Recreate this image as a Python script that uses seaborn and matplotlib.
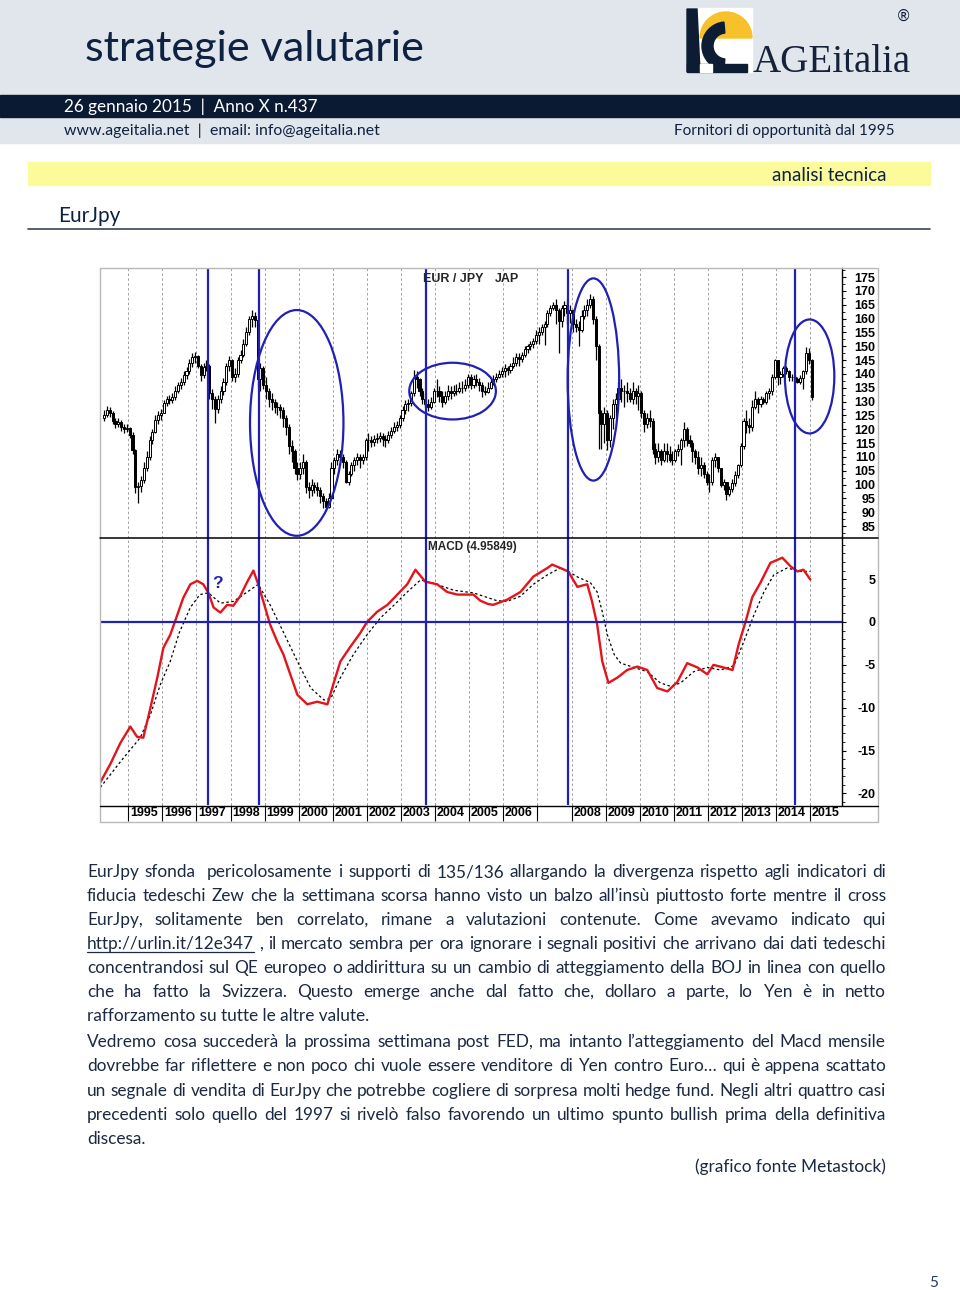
import numpy as np
import pandas as pd
import matplotlib
matplotlib.use("Agg")
import matplotlib.pyplot as plt
import matplotlib.transforms as mtransforms
from matplotlib.patches import Rectangle, Ellipse, Wedge, Polygon
from matplotlib import font_manager
import seaborn as sns

# ------------------------------------------------------------------ data
first_open = 124.0
closes = [
    125, 127, 126, 123, 122, 122.5, 121, 120, 120.5,                      # 1994 (Apr-Dec)
    118, 112.5, 99, 99.5, 101.5, 106, 110, 116, 119, 123.5, 125, 126,      # 1995
    129.5, 131, 130.5, 131.5, 134, 136, 137, 139.5, 141, 144, 146, 146.5,  # 1996
    143, 139.5, 142.5, 143, 133, 131, 127.5, 131, 134, 137, 143, 145,      # 1997
    139, 140, 145, 147, 151, 155, 160, 161, 159.5, 138, 142, 136,          # 1998
    134, 131, 130, 128, 128, 127, 124, 121, 114, 112, 106, 104,            # 1999
    106, 108, 99, 98, 100, 99, 98, 96, 94, 92, 95, 106,                    # 2000
    109, 111, 110, 108, 101, 104, 107, 109, 110, 109, 110, 116,            # 2001
    116, 115.5, 116.5, 117, 117.5, 116.5, 116, 118, 119.5, 121, 121.5, 124,  # 2002
    127, 129, 129.5, 133, 139, 138, 134, 131, 129, 128, 130, 134,          # 2003
    134, 132, 130, 132, 134, 133, 134, 134, 135, 135, 136, 139,            # 2004
    136, 138, 137, 136, 134, 133.5, 135, 137, 138, 139, 140, 141,          # 2005
    142, 141.5, 143, 144, 146, 145.5, 147, 149, 150, 151, 152, 154,        # 2006
    155, 157, 158, 162, 164, 165, 163, 159, 164, 165, 162, 163,            # 2007
    158, 157, 156, 161, 163, 165, 167, 160, 150, 126, 122, 126,            # 2008
    116, 124, 129, 131, 135, 134, 134, 133, 131, 134, 132, 133,            # 2009
    126, 122, 124, 123, 113, 110, 112, 109, 112, 111, 109, 109,            # 2010
    112, 113, 116, 120, 116, 115, 112, 110, 106, 107, 104, 101,            # 2011
    101, 109, 110, 106, 100, 101, 96.5, 98.5, 100.5, 103.5, 107, 114,      # 2012
    123, 121.5, 121, 128, 131, 129, 131, 130, 133, 134, 139, 145,          # 2013
    139, 140, 142, 141, 139, 139, 138, 137, 138.5, 141, 147.5, 145,        # 2014
    131.6,                                                                 # 2015
]
highs = [
    127, 128.5, 128, 126.5, 124, 124, 123.5, 122, 122,
    121, 119, 113, 101, 103, 108, 112, 117.5, 120, 125, 126.5, 127.5,
    130.5, 132, 132.5, 133, 135.5, 137, 138.5, 141, 142.5, 145.5, 147.5, 148,
    147, 143.5, 144, 145, 143.5, 134.5, 132, 132.5, 135.5, 138.5, 144, 146.5,
    145.5, 142, 146, 148.5, 152.5, 157, 161, 163, 162.5, 160, 144, 143,
    139, 135, 133, 131, 130, 129, 128, 125, 122, 116, 113, 108,
    108, 111, 109, 101, 102, 101, 101, 99, 97, 95, 97, 108,
    110, 113, 112.5, 111, 109, 105, 108, 110, 111.5, 111, 111, 117,
    118.5, 117.5, 118, 118.5, 119, 118.5, 118, 119.5, 121, 122.5, 123, 125,
    128.5, 130.5, 131, 134, 141.5, 141, 138.5, 135, 133, 131, 131.5, 135,
    138, 135.5, 134, 134, 136, 135.5, 136, 136.5, 137, 137.5, 138, 140,
    140, 139.5, 140, 138.5, 137, 135.5, 137, 138, 139.5, 140.5, 141.5, 142.5,
    143.5, 143, 144, 146, 147.5, 147.5, 148, 150, 151, 152, 153, 156,
    157, 158, 159, 163, 165, 166, 167, 164, 165, 166.5, 167, 165,
    163, 160, 159, 163, 165, 167, 169, 168, 161, 151, 127, 128,
    127, 125, 131, 133, 137, 138, 136, 137, 135, 137, 135, 136,
    134, 127, 126, 127, 124, 115, 115, 113, 115, 115, 114, 112,
    113, 114.5, 117, 122.6, 121, 118, 116, 113, 112, 110, 108, 105,
    104, 110, 111.5, 110, 106, 102, 101, 99.5, 102, 105, 107.5, 115,
    124, 127, 124, 130.5, 134, 131.5, 132, 131.5, 134, 135, 140, 145.5,
    145, 141, 143, 143, 141.5, 140, 139.5, 139, 139.5, 141.5, 149.8, 149.5,
    145.5,
]
lows = [
    123, 124.5, 124.5, 122, 120.5, 121, 119.5, 118.5, 119,
    117, 111, 97, 93.3, 97.5, 100.5, 105, 109, 114.5, 118.5, 122, 123.5,
    126, 128.5, 129, 129.5, 130.5, 133, 134.5, 136, 138, 140, 142.5, 144,
    142, 137.5, 138.5, 141, 131, 127.5, 122.3, 126, 129.5, 132.5, 136, 141,
    137.5, 137, 139, 144, 146, 150, 154, 157, 157, 135, 134, 134.5,
    131, 128, 127, 126, 125, 124, 121, 118, 111, 108, 104, 101.5,
    102, 104, 97, 95, 96, 97, 96, 93.5, 91.5, 90.8, 91.5, 95,
    104, 107, 108, 106, 100.5, 100, 103, 105, 107, 106, 107.5, 109,
    112, 113.5, 114, 115, 115.5, 114, 113.5, 115, 117, 118.5, 119.5, 120.5,
    123, 125.5, 126.5, 128.5, 132, 135, 132, 129, 128, 126.5, 127.5, 129.5,
    131.5, 130, 128, 129, 130.5, 131, 132, 132.5, 133, 133, 134, 135,
    134.5, 135, 135.5, 134, 131.6, 132.5, 133, 134.5, 136, 137, 138.5, 139,
    139, 139.5, 140.5, 142, 143, 143, 144.5, 146, 147.5, 148.5, 149.5, 151,
    151, 154, 150.5, 157, 161, 163, 158, 147.6, 157, 161, 158, 158.5,
    155, 155, 150, 155, 160, 161, 164, 158, 145, 113, 113, 115,
    112.5, 113.5, 120, 124, 129, 130, 128, 130, 130, 129, 129, 127,
    124, 119, 120.5, 121, 111, 107.5, 108, 107, 108, 108, 108, 107,
    108, 110.5, 107, 113.5, 114, 113.5, 108, 107.5, 104, 103, 102.5, 100,
    97.5, 100, 106.5, 104.5, 99, 98, 94.4, 96, 97.5, 99.5, 102.5, 106.5,
    113, 118.5, 118.5, 119.5, 127.5, 126, 128, 129, 129, 131, 132.5, 138,
    136, 136.5, 139, 140, 137.5, 137.5, 137, 136.7, 136.5, 134.5, 140, 143.5,
    130.5,
]
first_month = "1994-04"

macd_x = [1994.18, 1994.47, 1994.77, 1995.06, 1995.26, 1995.44, 1995.65, 1995.85,
          1996.03, 1996.23, 1996.44, 1996.61, 1996.82, 1997.02, 1997.20, 1997.35,
          1997.50, 1997.70, 1997.90, 1998.08, 1998.28, 1998.49, 1998.67, 1998.81,
          1998.96, 1999.16, 1999.37, 1999.55, 1999.75, 1999.96, 2000.25, 2000.54,
          2000.84, 2001.01, 2001.22, 2001.51, 2001.80, 2002.00, 2002.30, 2002.60,
          2002.89, 2003.18, 2003.42, 2003.71, 2004.06, 2004.35, 2004.65, 2005.12,
          2005.32, 2005.55, 2005.70, 2006.11, 2006.50, 2006.88, 2007.29, 2007.43,
          2007.67, 2007.90, 2008.17, 2008.46, 2008.60, 2008.75, 2008.90, 2009.08,
          2009.34, 2009.63, 2009.93, 2010.22, 2010.51, 2010.81, 2011.10, 2011.39,
          2011.69, 2011.98, 2012.16, 2012.45, 2012.72, 2012.90, 2013.10, 2013.30,
          2013.54, 2013.83, 2014.18, 2014.42, 2014.62, 2014.80, 2015.00]
macd_y = [-18.7, -16.6, -14.1, -12.2, -13.4, -13.5, -10.0, -6.5,
          -3.0, -1.5, 0.85, 2.8, 4.4, 4.8, 4.4, 3.4,
          1.7, 1.1, 2.0, 1.9, 3.0, 4.7, 6.0, 4.4,
          2.4, -0.3, -2.3, -3.8, -6.1, -8.5, -9.6, -9.3,
          -9.6, -7.3, -4.6, -2.9, -1.3, 0.0, 1.2, 2.0,
          3.2, 4.4, 6.1, 4.7, 4.4, 3.5, 3.2, 3.2,
          2.5, 2.1, 2.0, 2.6, 3.5, 5.3, 6.3, 6.7,
          6.3, 5.9, 4.1, 4.4, 2.4, -0.3, -4.6, -7.1,
          -6.5, -5.6, -5.2, -5.6, -7.7, -8.1, -7.0, -4.8,
          -5.3, -6.1, -5.0, -5.3, -5.6, -2.6, 0.0, 2.9,
          4.6, 6.9, 7.5, 6.5, 5.9, 6.1, 4.96]
signal_x = [1994.18, 1994.77, 1995.35, 1995.65, 1995.94, 1996.23, 1996.50, 1996.82,
            1997.10, 1997.35, 1997.70, 1998.08, 1998.49, 1998.81, 1999.16, 1999.55,
            1999.96, 2000.35, 2000.74, 2000.94, 2001.22, 2001.60, 2002.00, 2002.40,
            2002.80, 2003.18, 2003.57, 2003.96, 2004.55, 2005.12, 2005.50, 2005.80,
            2006.10, 2006.50, 2006.88, 2007.29, 2007.67, 2007.90, 2008.20, 2008.55,
            2008.75, 2008.90, 2009.05, 2009.25, 2009.44, 2009.83, 2010.22, 2010.60,
            2010.90, 2011.20, 2011.58, 2011.98, 2012.37, 2012.76, 2013.05, 2013.35,
            2013.64, 2013.93, 2014.32, 2014.71, 2015.00]
signal_y = [-19.3, -16.3, -13.5, -10.8, -7.3, -4.6, -1.2, 1.7,
            3.2, 3.4, 2.2, 2.4, 3.5, 4.4, 2.0, -1.2,
            -4.6, -7.7, -9.1, -8.9, -6.5, -3.8, -1.5, 0.5,
            2.0, 3.5, 4.9, 4.5, 3.7, 3.4, 2.9, 2.5,
            2.4, 3.0, 4.4, 5.5, 6.3, 5.9, 5.2, 4.6,
            3.5, 1.2, -1.5, -3.8, -4.8, -5.3, -5.8, -7.1,
            -7.5, -7.1, -5.8, -5.3, -5.6, -5.1, -2.3, 0.85,
            3.5, 5.5, 6.3, 5.9, 5.9]

signal_dates = [1997.34, 1998.83, 2003.73, 2007.89, 2014.55]
grid_years = list(range(1995, 2016))
year_labels = ["1995", "1996", "1997", "1998", "1999", "2000", "2001", "2002",
               "2003", "2004", "2005", "2006", "", "2008", "2009", "2010",
               "2011", "2012", "2013", "2014", "2015"]
price_ticks = list(range(85, 176, 5))
macd_ticks = [5, 0, -5, -10, -15, -20]
macd_last = "4.95849"

body_lines = [
    "EurJpy sfonda  pericolosamente i supporti di 135/136 allargando la divergenza rispetto agli indicatori di",
    "fiducia tedeschi Zew che la settimana scorsa hanno visto un balzo all\u2019insù piuttosto forte mentre il cross",
    "EurJpy, solitamente ben correlato, rimane a valutazioni contenute. Come avevamo indicato qui",
    "http://urlin.it/12e347 , il mercato sembra per ora ignorare i segnali positivi che arrivano dai dati tedeschi",
    "concentrandosi sul QE europeo o addirittura su un cambio di atteggiamento della BOJ in linea con quello",
    "che ha fatto la Svizzera. Questo emerge anche dal fatto che, dollaro a parte, lo Yen è in netto",
    "rafforzamento su tutte le altre valute.",
    "Vedremo cosa succederà la prossima settimana post FED, ma intanto l\u2019atteggiamento del Macd mensile",
    "dovrebbe far riflettere e non poco chi vuole essere venditore di Yen contro Euro\u2026 qui è appena scattato",
    "un segnale di vendita di EurJpy che potrebbe cogliere di sorpresa molti hedge fund. Negli altri quattro casi",
    "precedenti solo quello del 1997 si rivelò falso favorendo un ultimo spunto bullish prima della definitiva",
    "discesa.",
]
justified = [True, True, True, True, True, True, False, True, True, True, True, False]

# ------------------------------------------------------------------ style
sns.set_theme(style="white")
names = {f.name for f in font_manager.fontManager.ttflist}


def pick(*cands):
    for c in cands:
        if c in names:
            return c
    return "DejaVu Sans"


HUM = pick("Lato", "Open Sans", "Noto Sans")
ARIAL = pick("Liberation Sans", "DejaVu Sans")
SERIF = pick("Liberation Serif", "DejaVu Serif")
plt.rcParams["font.family"] = [HUM, "DejaVu Sans"]
plt.rcParams["axes.unicode_minus"] = False

NAVY = "#0f2140"
TXT = "#1c2943"
BLUE = "#2020b4"

W, H = 960, 1290
fig = plt.figure(figsize=(9.6, 12.9), dpi=100)
renderer = fig.canvas.get_renderer()


def rect(l, t, r, b):
    return [l / W, 1 - b / H, (r - l) / W, (b - t) / H]


bg = fig.add_axes([0, 0, 1, 1])
bg.set_xlim(0, W)
bg.set_ylim(H, 0)
bg.axis("off")


def fit(ax, x, y, s, width, size=12, ha="left", va="baseline", **kw):
    t = ax.text(x, y, s, fontsize=size, ha=ha, va=va, **kw)
    w = t.get_window_extent(renderer).width
    t.set_fontsize(size * width / w)
    return t


# ------------------------------------------------------------------ header
bg.add_patch(Rectangle((0, 0), W, 143, color="#e1e5ec", zorder=0))
bg.add_patch(Rectangle((0, 95), W, 22, color="#0b1a33", zorder=1))
fit(bg, 85, 61, "strategie valutarie", 340, size=30, color=NAVY, family=HUM)
fit(bg, 64, 112, "26 gennaio 2015  |  Anno X n.437", 252, size=12, color="white", family=HUM)
fit(bg, 64, 135, "www.ageitalia.net  |  email: info@ageitalia.net", 314, size=12, color=NAVY, family=HUM)
fit(bg, 895, 135, "Fornitori di opportunità dal 1995", 220, size=12, ha="right", color=NAVY, family=HUM)

# logo
bg.add_patch(Rectangle((687, 8), 65, 64, color="white", zorder=2))
bg.add_patch(Wedge((726, 38), 26, 180, 360, color="#f6c12b", zorder=3))
bg.add_patch(Polygon([(687, 9), (697, 9), (700, 72), (687, 72)], closed=True, color="#0d1b33", zorder=4))
bg.add_patch(Wedge((726, 46), 24, 95, 265, width=11, color="#0d1b33", zorder=4))
bg.add_patch(Rectangle((687, 64), 60, 8, color="#0d1b33", zorder=4))
bg.add_patch(Rectangle((700, 64), 12, 8, color="white", zorder=5))
fit(bg, 753, 72, "AGEitalia", 158, size=30, color="#16223a", family=SERIF, zorder=5)
bg.text(904, 16, "\u00ae", fontsize=11, color="#16223a", ha="center", va="center", family="DejaVu Sans")

# section
bg.add_patch(Rectangle((28, 162), 902, 23, color="#fbfb9c", zorder=1))
fit(bg, 886, 181, "analisi tecnica", 115, size=14, ha="right", color=NAVY, family=HUM, zorder=2)
fit(bg, 58, 222, "EurJpy", 62, size=15, color=NAVY, family=HUM)
bg.plot([28, 930], [228.5, 228.5], color="#3a4455", lw=1.2)

# ------------------------------------------------------------------ chart
XMIN, XMAX = 1994.20, 2015.93
ax_p = fig.add_axes(rect(101, 268, 842, 538))
ax_m = fig.add_axes(rect(101, 538, 842, 805))
for ax in (ax_p, ax_m):
    ax.set_facecolor("none")
    ax.set_xlim(XMIN, XMAX)
    for s in ["top", "left", "bottom"]:
        ax.spines[s].set_visible(False)
    ax.spines["right"].set_color("black")
    ax.spines["right"].set_linewidth(1.0)
    ax.set_xticks(grid_years)
    ax.tick_params(axis="x", length=0, labelbottom=False)
    ax.grid(axis="x", color="#a0a0a0", lw=0.7, ls=(0, (2.5, 2.5)))
    ax.set_axisbelow(True)
    ax.yaxis.tick_right()
    ax.tick_params(axis="y", which="major", direction="out", length=3, width=0.8,
                   color="black", pad=21, labelsize=9, labelcolor="black")
    ax.tick_params(axis="y", which="minor", direction="out", length=2, width=0.6, color="black")
    for v in signal_dates:
        ax.axvline(v, color=BLUE, lw=1.6, zorder=5)

# price candles
dates = pd.period_range(first_month, periods=len(closes), freq="M")
xs = dates.year.values + (dates.month.values - 0.5) / 12
c = np.array(closes, float)
o = np.array([first_open] + closes[:-1], float)
hi = np.array(highs, float)
lo = np.array(lows, float)
up = c >= o
ax_p.vlines(xs, lo, hi, color="black", lw=0.9, zorder=2)
ax_p.bar(xs[up], (c - o)[up], bottom=o[up], width=0.062, color="white",
         edgecolor="black", linewidth=0.7, zorder=3)
ax_p.bar(xs[~up], (o - c)[~up], bottom=c[~up], width=0.062, color="black",
         edgecolor="black", linewidth=0.7, zorder=3)
ax_p.set_ylim(80.7, 178.3)
ax_p.set_yticks(price_ticks)
ax_p.set_yticks(np.arange(82.5, 178, 2.5), minor=True)
for lab in ax_p.get_yticklabels():
    lab.set_horizontalalignment("right")
    lab.set_fontweight("bold")
    lab.set_family(ARIAL)

# ellipses on the price panel
for (cx, cy, ew, eh) in [(1999.94, 122.3, 2.74, 81.6), (2004.51, 133.8, 2.54, 20.5),
                         (2008.64, 138.0, 1.51, 73.1), (2014.98, 139.1, 1.45, 41.2)]:
    ax_p.add_patch(Ellipse((cx, cy), ew, eh, fill=False, edgecolor=BLUE, lw=1.6,
                           zorder=6, clip_on=False))

# MACD
sns.lineplot(x=signal_x, y=signal_y, ax=ax_m, color="black", linewidth=0.9, zorder=3)
ax_m.lines[-1].set_linestyle((0, (2, 2)))
sns.lineplot(x=macd_x, y=macd_y, ax=ax_m, color="#e3141c", linewidth=1.7, zorder=4)
ax_m.lines[-1].set_solid_joinstyle("round")
ax_m.axhline(0, color=BLUE, lw=1.6, zorder=5)
ax_m.set_ylim(-21.35, 9.8)
ax_m.set_xlim(XMIN, XMAX)
ax_m.set_xlabel("")
ax_m.set_ylabel("")
ax_m.set_yticks(macd_ticks)
ax_m.set_yticks(np.arange(-21, 10, 1), minor=True)
for lab in ax_m.get_yticklabels():
    lab.set_horizontalalignment("right")
    lab.set_fontweight("bold")
    lab.set_family(ARIAL)

# year label row
blend = mtransforms.blended_transform_factory(ax_m.transData, ax_m.transAxes)
row_h = 16 / 267
ax_m.vlines(grid_years, -row_h, 0, transform=blend, color="black", lw=0.8, clip_on=False)
for yr, lab in zip(grid_years, year_labels):
    ax_m.text(yr + 0.05, -row_h / 2, lab, transform=blend, ha="left", va="center",
              fontsize=9, fontweight="bold", family=ARIAL, color="black", clip_on=False)

# chart frame and separators (page coordinates)
top = fig.add_axes([0, 0, 1, 1])
top.set_xlim(0, W)
top.set_ylim(H, 0)
top.axis("off")
top.set_facecolor("none")
top.add_patch(Rectangle((100, 268), 778, 554, fill=False, edgecolor="#b8b8b8", lw=1.0))
top.plot([100, 878], [538, 538], color="black", lw=1.1)
top.plot([100, 878], [805.5, 805.5], color="black", lw=1.0)
top.text(423, 279, "EUR / JPY", fontsize=9, fontweight="bold", family=ARIAL, va="center", ha="left")
top.text(495, 279, "JAP", fontsize=9, fontweight="bold", family=ARIAL, va="center", ha="left")
top.text(428, 547, f"MACD ({macd_last})", fontsize=8.5, fontweight="bold", family=ARIAL,
         va="center", ha="left")
top.text(212, 583, "?", fontsize=12.5, fontweight="bold", family=ARIAL, color=BLUE,
         va="center", ha="left")

# ------------------------------------------------------------------ body text
LEFT, RIGHT = 87, 886
baselines = [877, 901, 925, 949, 973, 997, 1021, 1047, 1071, 1096, 1120, 1144]


def text_w(s, fs):
    t = bg.text(0, 0, s, fontsize=fs, family=HUM)
    w = t.get_window_extent(renderer).width
    t.remove()
    return w


nat = max(text_w(l, 12) for l, j in zip(body_lines, justified) if j)
fs = min(12.6, 12 * (RIGHT - LEFT - 1) / nat)

for line, just, yb in zip(body_lines, justified, baselines):
    if not just:
        bg.text(LEFT, yb, line, fontsize=fs, family=HUM, color=TXT, va="baseline")
        continue
    words = line.split(" ")
    widths = [text_w(wd, fs) if wd else 0.0 for wd in words]
    gap = (RIGHT - LEFT - sum(widths)) / (len(words) - 1)
    x = LEFT
    for wd, w in zip(words, widths):
        if wd:
            bg.text(x, yb, wd, fontsize=fs, family=HUM, color=TXT, va="baseline")
            if wd.startswith("http"):
                bg.plot([x, x + w], [yb + 2.5, yb + 2.5], color=TXT, lw=0.9)
        x += w + gap

bg.text(RIGHT, 1172, "(grafico fonte Metastock)", fontsize=fs, family=HUM, color=TXT,
        ha="right", va="baseline")
bg.text(934, 1283, "5", fontsize=11, family=HUM, color="#1f3a66", ha="center", va="center")

fig.savefig("out.png", dpi=100)
